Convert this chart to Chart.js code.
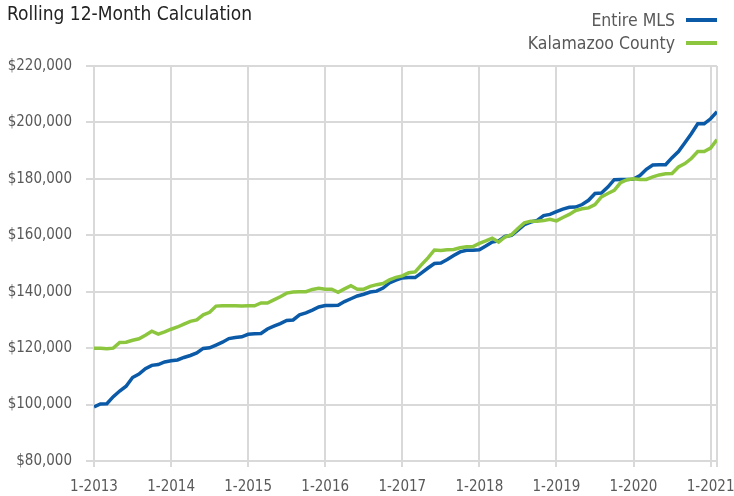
<!DOCTYPE html>
<html>
<head>
<meta charset="utf-8">
<script src="https://cdn.jsdelivr.net/npm/chart.js@4"></script>
<style>
  body { margin: 0; background: #fff; }
  #wrap { position: relative; width: 734px; height: 496px; font-family: "Liberation Sans Narrow", "DejaVu Sans Condensed", sans-serif; }
  #chart { position: absolute; left: 0; top: 0; }
  .title { position: absolute; left: 7px; top: 2px; font-size: 19px; color: #222; white-space: nowrap; }
  .legend { position: absolute; right: 17px; font-size: 17.5px; color: #595959; white-space: nowrap; display: flex; align-items: center; }
  .legend i { display: inline-block; width: 31px; height: 4px; margin-left: 11px; }
</style>
</head>
<body>
<div id="wrap">
  <canvas id="chart" width="734" height="496"></canvas>
  <div class="title">Rolling 12-Month Calculation</div>
  <div class="legend" style="top:10px">Entire MLS<i style="background:#0a5aa8"></i></div>
  <div class="legend" style="top:33px">Kalamazoo County<i style="background:#8cc63e"></i></div>
</div>
<script>
// monthly points, 1-2013 through 2-2021
const tickLabels = ["1-2013","1-2014","1-2015","1-2016","1-2017","1-2018","1-2019","1-2020","1-2021"];

const entireMLS = [
  99200,100200,100300,102800,104800,106500,109600,110800,112700,113900,114200,115100,
  115500,115800,116700,117400,118300,119900,120100,121100,122100,123400,123800,124000,
  124900,125100,125200,126800,127800,128700,129800,130000,131800,132500,133500,134600,
  135100,135100,135200,136500,137500,138500,139100,139900,140200,141300,143100,144100,
  144900,145000,145000,146700,148400,150000,150200,151400,152800,154100,154700,154700,
  154900,156200,157600,158000,159600,160000,161800,163800,164700,165300,167000,167400,
  168400,169300,169900,170000,170900,172400,174800,175000,177100,179700,179800,179800,
  179900,181200,183400,184900,185000,185000,187500,189700,192800,196000,199500,199500,
  201300,203800
];

const kalamazoo = [
  120000,120000,119800,120000,122000,122100,122800,123300,124600,126000,125000,125800,
  126700,127500,128500,129500,130000,131800,132700,134900,135000,135000,135000,134900,
  135000,135000,136000,136000,137100,138200,139500,139900,140000,140000,140800,141200,
  140900,140900,139800,141000,142100,140900,140900,141900,142500,142900,144200,145100,
  145600,146700,147000,149600,152000,154800,154600,154900,155000,155600,155900,156000,
  157100,158000,159000,157600,159400,160200,162400,164400,165000,165000,165200,165700,
  165100,166300,167400,168800,169400,169700,170900,173600,174800,175900,178700,179700,
  180000,179800,179800,180700,181400,181800,181900,184200,185400,187200,189700,189700,
  190900,193900
];

const toPoints = arr => arr.map((v, i) => ({ x: i, y: v }));
const lastIndex = entireMLS.length - 1;
const tickFont = { family: "'Liberation Sans Narrow', 'DejaVu Sans Condensed', sans-serif", size: 15 };

new Chart(document.getElementById("chart"), {
  type: "line",
  data: {
    datasets: [
      {
        label: "Entire MLS",
        data: toPoints(entireMLS),
        borderColor: "#0a5aa8",
        borderWidth: 3.5,
        pointRadius: 0,
        tension: 0,
        order: 2
      },
      {
        label: "Kalamazoo County",
        data: toPoints(kalamazoo),
        borderColor: "#8cc63e",
        borderWidth: 3.5,
        pointRadius: 0,
        tension: 0,
        order: 1
      }
    ]
  },
  options: {
    responsive: false,
    animation: false,
    layout: { padding: { top: 66, right: 17, left: 0, bottom: 0 } },
    plugins: { legend: { display: false }, tooltip: { enabled: false } },
    scales: {
      x: {
        type: "linear",
        min: 0,
        max: lastIndex,
        afterFit: s => { s.height = 35; },
        // one tick per January plus the right edge
        afterBuildTicks: s => {
          s.ticks = tickLabels.map((t, i) => ({ value: i * 12 })).concat([{ value: lastIndex }]);
        },
        border: { display: false },
        grid: { color: "#d9d9d9", lineWidth: 2, tickLength: 6 },
        ticks: {
          autoSkip: false,
          maxRotation: 0,
          padding: 11,
          color: "#595959",
          font: tickFont,
          callback: v => (v % 12 === 0 ? tickLabels[v / 12] : "")
        }
      },
      y: {
        min: 80000,
        max: 220000,
        afterFit: s => { s.width = 94; },
        border: { display: false },
        grid: { color: "#d9d9d9", lineWidth: 2, tickLength: 8 },
        ticks: {
          stepSize: 20000,
          padding: 14,
          color: "#595959",
          font: tickFont,
          callback: v => "$" + v.toLocaleString("en-US")
        }
      }
    }
  }
});
</script>
</body>
</html>
